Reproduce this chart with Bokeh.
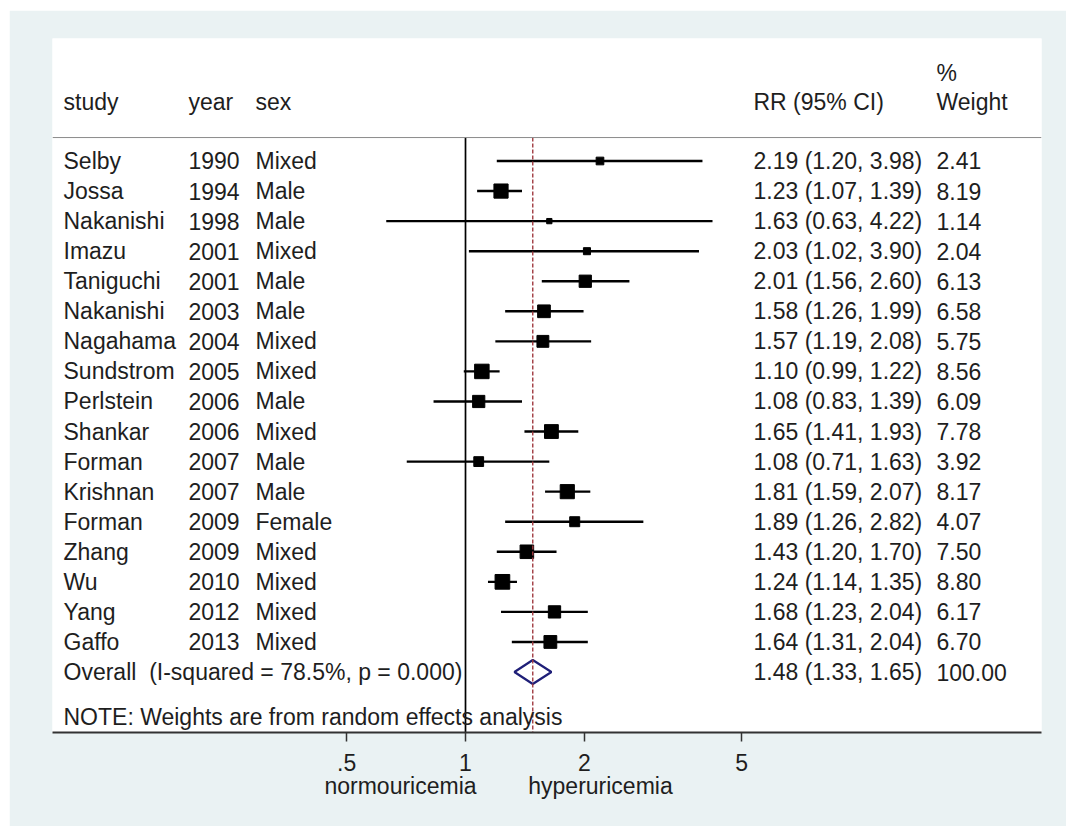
import numpy as np
from bokeh.plotting import figure
from bokeh.layouts import row, column
from bokeh.models import (ColumnDataSource, LabelSet, Label, Range1d, FixedTicker,
                          CustomJSTickFormatter, Span, Spacer, LinearAxis, LinearScale)
from bokeh.core.properties import value
from bokeh.embed import file_html
from bokeh.resources import INLINE

# ---------------- data ----------------
study = ["Selby", "Jossa", "Nakanishi", "Imazu", "Taniguchi", "Nakanishi", "Nagahama",
         "Sundstrom", "Perlstein", "Shankar", "Forman", "Krishnan", "Forman", "Zhang",
         "Wu", "Yang", "Gaffo"]
year = [1990, 1994, 1998, 2001, 2001, 2003, 2004, 2005, 2006, 2006, 2007, 2007, 2009,
        2009, 2010, 2012, 2013]
sex = ["Mixed", "Male", "Male", "Mixed", "Male", "Male", "Mixed", "Mixed", "Male", "Mixed",
       "Male", "Male", "Female", "Mixed", "Mixed", "Mixed", "Mixed"]
rr = [2.19, 1.23, 1.63, 2.03, 2.01, 1.58, 1.57, 1.10, 1.08, 1.65, 1.08, 1.81, 1.89, 1.43,
      1.24, 1.68, 1.64]
lo = [1.20, 1.07, 0.63, 1.02, 1.56, 1.26, 1.19, 0.99, 0.83, 1.41, 0.71, 1.59, 1.26, 1.20,
      1.14, 1.23, 1.31]
hi = [3.98, 1.39, 4.22, 3.90, 2.60, 1.99, 2.08, 1.22, 1.39, 1.93, 1.63, 2.07, 2.82, 1.70,
      1.35, 2.04, 2.04]
weight = [2.41, 8.19, 1.14, 2.04, 6.13, 6.58, 5.75, 8.56, 6.09, 7.78, 3.92, 8.17, 4.07,
          7.50, 8.80, 6.17, 6.70]
overall_rr, overall_lo, overall_hi, overall_w = 1.48, 1.33, 1.65, 100.00
i_squared = 78.5
p_value = 0.000
null_value = 1
x_ticks = [0.5, 1, 2, 5]
favours = ["normouricemia", "hyperuricemia"]
note = "NOTE: Weights are from random effects analysis"

# ---------------- style / layout constants ----------------
FONT = "Liberation Sans"
FS = "23px"
TXT = "#1e1e1e"
BG = "#eaf2f3"
n = len(study)
rows = list(range(1, n + 1))
row_overall = n + 1
row_note = n + 2.48
row_header = -0.97
row_pct = -1.92
row_sep = 0.22
y_bottom = 20.012
y_top = -3.075

p = figure(width=1057, height=816, x_axis_type="log",
           x_range=Range1d(0.09004, 28.72), y_range=Range1d(y_bottom, y_top),
           output_backend="svg", toolbar_location=None, y_axis_location=None,
           min_border_left=43, min_border_right=25, min_border_top=28,
           min_border_bottom=94)
p.border_fill_color = BG
p.background_fill_color = "white"
p.outline_line_color = None
p.xgrid.visible = False
p.ygrid.visible = False

# separator line under header
p.add_layout(Span(location=row_sep, dimension="width", line_color="#8a8a8a",
                  line_width=1))

# null line
p.segment(x0=[null_value], x1=[null_value], y0=[row_sep], y1=[y_bottom],
          line_color="black", line_width=1.7)

# CIs and boxes
src = ColumnDataSource(dict(
    y=rows, rr=rr, lo=lo, hi=hi,
    size=[4.95 * np.sqrt(w) for w in weight],
    study=study, year=[str(v) for v in year], sex=sex,
    rrtxt=[f"{a:.2f} ({b:.2f}, {c:.2f})" for a, b, c in zip(rr, lo, hi)],
    wtxt=[f"{w:.2f}" for w in weight],
))
p.segment(x0="lo", x1="hi", y0="y", y1="y", source=src, line_color="black",
          line_width=2.4)
p.scatter(x="rr", y="y", size="size", marker="square", source=src,
          fill_color="black", line_color="black")

# overall diamond
h = 0.4
p.patch(x=[overall_lo, overall_rr, overall_hi, overall_rr],
        y=[row_overall, row_overall - h, row_overall, row_overall + h],
        fill_color="white", line_color="#1f1f78", line_width=2.2)

# overall dashed line
p.segment(x0=[overall_rr], x1=[overall_rr], y0=[row_sep], y1=[y_bottom],
          line_color="#a03a40", line_width=1.4, line_dash="4 2")

# text columns (x in screen px from the left of the plot frame)
COLX = {"study": 11, "year": 136, "sex": 203, "rr": 701, "w": 884}

def col(field, xs):
    p.add_layout(LabelSet(x=xs, y="y", text=field, source=src, x_units="screen",
                          text_font=value(FONT), text_font_size=value(FS),
                          text_color=TXT, text_baseline="middle", text_align="left"))

col("study", COLX["study"])
col("year", COLX["year"])
col("sex", COLX["sex"])
col("rrtxt", COLX["rr"])
col("wtxt", COLX["w"])

def lab(text, xs, y, align="left"):
    p.add_layout(Label(x=xs, y=y, x_units="screen", text=text, text_font=FONT,
                       text_font_size=FS, text_color=TXT, text_baseline="middle",
                       text_align=align))

lab("study", COLX["study"], row_header)
lab("year", COLX["year"], row_header)
lab("sex", COLX["sex"], row_header)
lab("RR (95% CI)", COLX["rr"], row_header)
lab("%", COLX["w"], row_pct)
lab("Weight", COLX["w"], row_header)
lab(f"Overall\u00a0 (I-squared = {i_squared:.1f}%, p = {p_value:.3f})", COLX["study"], row_overall)
lab(f"{overall_rr:.2f} ({overall_lo:.2f}, {overall_hi:.2f})", COLX["rr"], row_overall)
lab(f"{overall_w:.2f}", COLX["w"], row_overall)
lab(note, COLX["study"], row_note)

# x axis
ax = p.xaxis[0]
ax.ticker = FixedTicker(ticks=x_ticks, minor_ticks=[])
ax.formatter = CustomJSTickFormatter(
    code="return tick < 1 ? String(tick).replace(/^0/, '') : String(tick);")
ax.axis_line_color = "#333333"
ax.axis_line_width = 2
ax.major_tick_line_color = "#333333"
ax.major_tick_line_width = 1.5
ax.major_tick_out = 9
ax.major_tick_in = 0
ax.minor_tick_line_color = None
ax.major_label_text_font = FONT
ax.major_label_text_font_size = FS
ax.major_label_text_color = TXT
ax.major_label_standoff = 12

# favours captions: a second, line-less axis in frame-pixel units
FAV_X = [348, 548]
p.extra_x_ranges = {"fav": Range1d(0, 989)}
p.extra_x_scales = {"fav": LinearScale()}
fav_ax = LinearAxis(x_range_name="fav", ticker=FixedTicker(ticks=FAV_X, minor_ticks=[]),
                    major_label_overrides={FAV_X[0]: favours[0], FAV_X[1]: favours[1]})
fav_ax.axis_line_color = None
fav_ax.major_tick_line_color = None
fav_ax.minor_tick_line_color = None
fav_ax.major_tick_out = 0
fav_ax.major_tick_in = 0
fav_ax.major_label_standoff = -1
fav_ax.major_label_text_font = FONT
fav_ax.major_label_text_font_size = FS
fav_ax.major_label_text_color = TXT
p.add_layout(fav_ax, "below")

layout = row(Spacer(width=9), column(Spacer(height=10), p))
open("out.html", "w").write(file_html(layout, INLINE))
